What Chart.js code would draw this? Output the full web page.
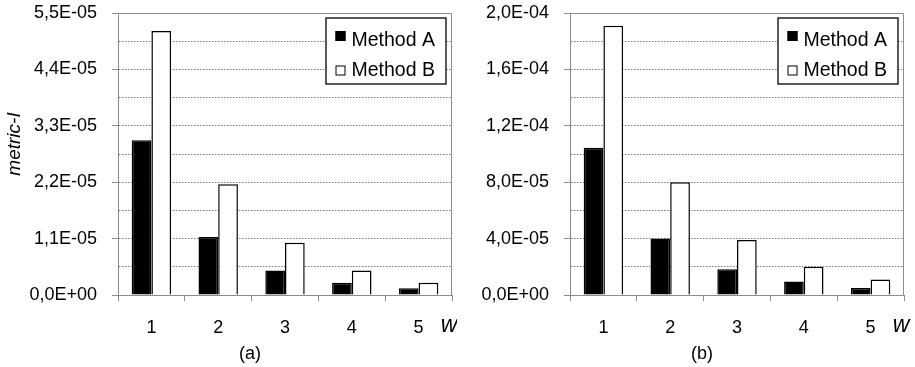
<!DOCTYPE html>
<html>
<head>
<meta charset="utf-8">
<script src="https://cdn.jsdelivr.net/npm/chart.js@4.4.1/dist/chart.umd.min.js"></script>
<style>
body{margin:0;background:#fff;width:915px;height:367px;position:relative;overflow:hidden}
canvas{position:absolute;top:0}
#chartA{left:0}
#chartB{left:457px}
</style>
</head>
<body>
<canvas id="chartA" width="457" height="367"></canvas>
<canvas id="chartB" width="458" height="367"></canvas>
<script>
const categories = ["1", "2", "3", "4", "5"];
const seriesNames = ["Method A", "Method B"];

// panel (a)
const methodA_a = [3.02e-5, 1.13e-5, 0.48e-5, 0.24e-5, 0.13e-5];
const methodB_a = [5.15e-5, 2.16e-5, 1.02e-5, 0.48e-5, 0.24e-5];
const yTicks_a = ["0,0E+00", "1,1E-05", "2,2E-05", "3,3E-05", "4,4E-05", "5,5E-05"];

// panel (b)
const methodA_b = [1.045e-4, 0.40e-4, 0.183e-4, 0.095e-4, 0.05e-4];
const methodB_b = [1.91e-4, 0.80e-4, 0.39e-4, 0.20e-4, 0.11e-4];
const yTicks_b = ["0,0E+00", "4,0E-05", "8,0E-05", "1,2E-04", "1,6E-04", "2,0E-04"];

const axisGray = "#8c8c8c";
const gridGray = "#7a7a7a";
const fontFamily = "'Liberation Sans', Arial, sans-serif";
const clear = "rgba(0,0,0,0)";

Chart.defaults.font.family = fontFamily;
Chart.defaults.color = "#000";

// frame, legend box, axis letter, caption and y title
const decor = {
  id: "decor",
  beforeDatasetsDraw(chart){
    const {ctx, chartArea: a} = chart;
    ctx.save();
    ctx.strokeStyle = axisGray;
    ctx.lineWidth = 1;
    ctx.beginPath();
    ctx.moveTo(a.left, a.top + 0.5);
    ctx.lineTo(a.right - 0.5, a.top + 0.5);
    ctx.lineTo(a.right - 0.5, a.bottom);
    ctx.stroke();
    ctx.restore();
  },
  afterDraw(chart, args, opts){
    const {ctx, chartArea: a} = chart;
    ctx.save();

    // legend
    const bw = 120, bh = 66;
    const bx = a.right - 6 - bw, by = a.top + 5;
    ctx.fillStyle = "#fff";
    ctx.fillRect(bx, by, bw, bh);
    ctx.strokeStyle = "#000";
    ctx.lineWidth = 1.3;
    ctx.strokeRect(bx, by, bw, bh);
    ctx.font = "19.5px " + fontFamily;
    ctx.textAlign = "left";
    ctx.textBaseline = "alphabetic";
    chart.data.datasets.forEach((ds, i) => {
      const sy = by + 13 + i * 34.5;
      ctx.fillStyle = ds.backgroundColor;
      ctx.fillRect(bx + 9.5, sy, 10, 10);
      ctx.strokeStyle = "#000";
      ctx.lineWidth = 1;
      ctx.strokeRect(bx + 10, sy + 0.5, 9, 9);
      ctx.fillStyle = "#000";
      ctx.fillText(ds.label, bx + 25.5, by + 28 + i * 30);
    });

    // w
    ctx.font = "italic 23px " + fontFamily;
    ctx.textAlign = "center";
    ctx.fillText("w", a.right - 3, a.bottom + 37);

    // caption
    ctx.font = "18px " + fontFamily;
    ctx.textBaseline = "middle";
    ctx.fillText(opts.caption, (a.left + a.right) / 2 - 35, a.bottom + 59);

    // y title
    if(opts.yTitle){
      ctx.translate(15, 144);
      ctx.rotate(-Math.PI / 2);
      ctx.font = "italic 19px " + fontFamily;
      ctx.fillText(opts.yTitle, 0, 0);
    }
    ctx.restore();
  }
};

function makeChart(id, aVals, bVals, yMax, yLabels, caption, yTitle, yWidth, padRight){
  const last = (yLabels.length - 1) * 2;
  return new Chart(document.getElementById(id), {
    type: "bar",
    data: {
      labels: categories,
      datasets: [
        {label: seriesNames[0], data: aVals, backgroundColor: "#000", borderColor: "#000", borderWidth: 1.5},
        {label: seriesNames[1], data: bVals, backgroundColor: "#fff", borderColor: "#000", borderWidth: 1.5}
      ]
    },
    options: {
      responsive: false,
      animation: false,
      layout: {padding: {top: 13, right: padRight, left: 0, bottom: 0}},
      datasets: {bar: {categoryPercentage: 0.59, barPercentage: 1}},
      plugins: {
        legend: {display: false},
        tooltip: {enabled: false},
        decor: {caption: caption, yTitle: yTitle}
      },
      scales: {
        x: {
          afterFit: s => { s.height = 72; s.paddingLeft = 0; s.paddingRight = 0; },
          grid: {offset: true, drawOnChartArea: false, tickLength: 6, color: axisGray, tickColor: axisGray},
          border: {color: axisGray, width: 1},
          ticks: {padding: 16, font: {size: 18}}
        },
        y: {
          min: 0,
          max: yMax,
          afterFit: s => { s.width = yWidth; s.paddingTop = 0; s.paddingBottom = 0; },
          ticks: {
            stepSize: yMax / last,
            padding: 15,
            font: {size: 18},
            callback: (v, i) => i % 2 ? "" : yLabels[i / 2]
          },
          grid: {
            tickLength: 6,
            lineWidth: 1,
            color: c => (c.index === 0 || c.index === last) ? clear : gridGray,
            tickColor: c => c.index % 2 ? clear : axisGray,
            tickBorderDash: []
          },
          border: {color: axisGray, width: 1, dash: [1.5, 1.5]}
        }
      }
    },
    plugins: [decor]
  });
}

makeChart("chartA", methodA_a, methodB_a, 5.5e-5, yTicks_a, "(a)", "metric-I", 118, 5);
makeChart("chartB", methodA_b, methodB_b, 2.0e-4, yTicks_b, "(b)", null, 113, 11);
</script>
</body>
</html>
